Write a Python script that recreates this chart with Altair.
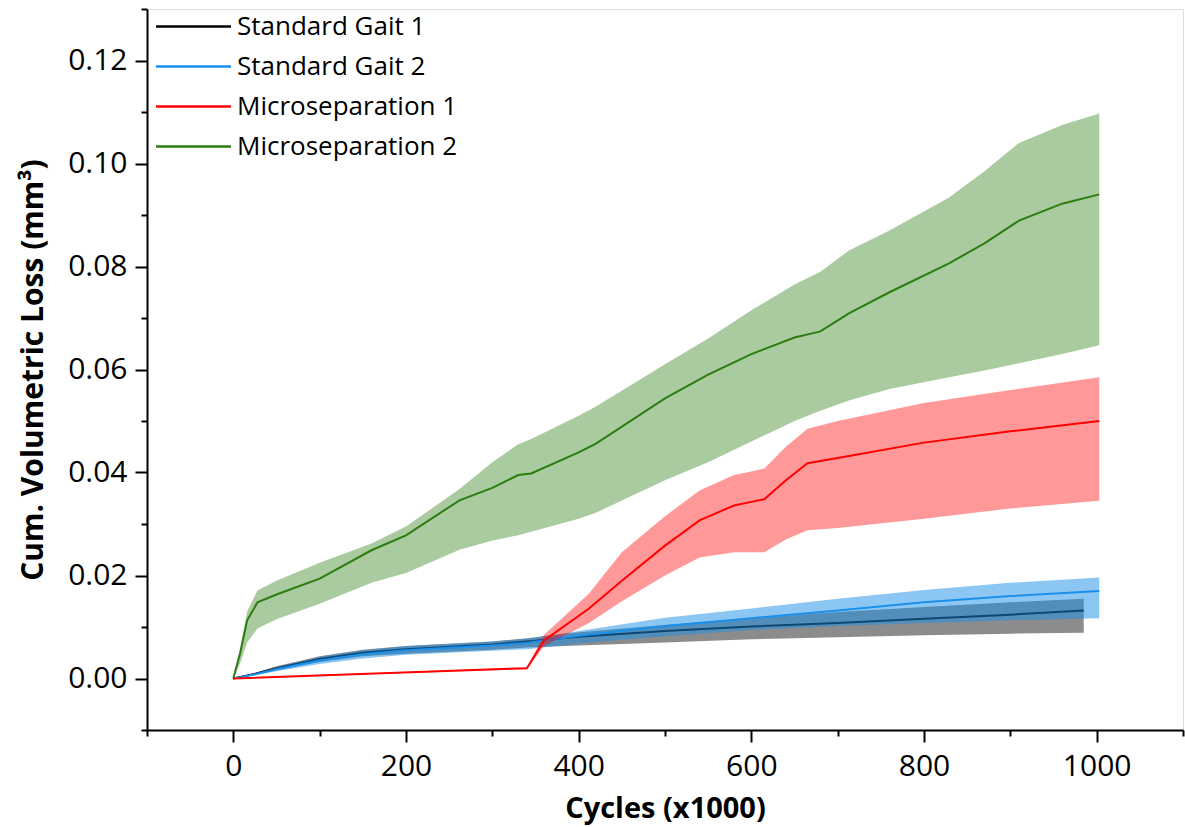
import altair as alt
import pandas as pd

series_names = ["Standard Gait 1", "Standard Gait 2", "Microseparation 1", "Microseparation 2"]
line_colors = ["#000000", "#1a90ea", "#ff0000", "#2b7d10"]
band_opacity = {"Standard Gait 1": 0.45, "Standard Gait 2": 0.5,
                "Microseparation 1": 0.4, "Microseparation 2": 0.4}

# Standard Gait 1
sg1_x = [0, 25, 50, 100, 150, 200, 300, 340, 400, 500, 600, 700, 800, 900, 985]
sg1_y = [0, 0.0009, 0.0020, 0.0038, 0.0050, 0.0057, 0.0066, 0.0072, 0.0081, 0.0092, 0.0101, 0.0108, 0.0116, 0.0124, 0.0132]
sg1_hi = [0, 0.0011, 0.0024, 0.0043, 0.0056, 0.0063, 0.0072, 0.0078, 0.0090, 0.0104, 0.0117, 0.0129, 0.0139, 0.0148, 0.0155]
sg1_lo = [0, 0.0007, 0.0016, 0.0032, 0.0043, 0.0048, 0.0056, 0.0060, 0.0064, 0.0070, 0.0076, 0.0080, 0.0084, 0.0087, 0.0089]

# Standard Gait 2
sg2_x = [0, 25, 50, 100, 150, 200, 300, 340, 400, 500, 600, 700, 800, 900, 1003]
sg2_y = [0, 0.0008, 0.0018, 0.0035, 0.0047, 0.0055, 0.0064, 0.0069, 0.0083, 0.0102, 0.0117, 0.0132, 0.0148, 0.0160, 0.0170]
sg2_hi = [0, 0.0010, 0.0022, 0.0042, 0.0055, 0.0063, 0.0072, 0.0077, 0.0092, 0.0118, 0.0136, 0.0155, 0.0172, 0.0186, 0.0196]
sg2_lo = [0, 0.0006, 0.0014, 0.0028, 0.0039, 0.0046, 0.0054, 0.0057, 0.0068, 0.0082, 0.0094, 0.0102, 0.0108, 0.0113, 0.0117]

# Microseparation 1
ms1_x = [0, 340, 360, 412, 450, 500, 540, 580, 600, 615, 640, 665, 700, 800, 900, 1003]
ms1_y = [0, 0.0020, 0.0074, 0.0136, 0.0190, 0.0258, 0.0307, 0.0336, 0.0343, 0.0348, 0.0385, 0.0418, 0.0428, 0.0458, 0.0480, 0.0500]
ms1_hi = [0, 0.0022, 0.0085, 0.0165, 0.0245, 0.0315, 0.0365, 0.0395, 0.0402, 0.0408, 0.0450, 0.0485, 0.0500, 0.0535, 0.0560, 0.0585]
ms1_lo = [0, 0.0018, 0.0063, 0.0108, 0.0150, 0.0200, 0.0235, 0.0245, 0.0245, 0.0245, 0.0270, 0.0288, 0.0292, 0.0310, 0.0330, 0.0345]

# Microseparation 2
ms2_x = [0, 8, 16, 28, 50, 100, 160, 200, 262, 300, 330, 345, 400, 420, 500, 550, 600, 650, 680, 713, 760, 829, 870, 910, 960, 1003]
ms2_y = [0, 0.0050, 0.0113, 0.0148, 0.0163, 0.0194, 0.0249, 0.0278, 0.0346, 0.0370, 0.0395, 0.0398, 0.0439, 0.0456, 0.0544, 0.0590, 0.0630, 0.0662, 0.0674, 0.0709, 0.0750, 0.0806, 0.0845, 0.0889, 0.0922, 0.0940]
ms2_hi = [0, 0.0060, 0.0130, 0.0171, 0.0190, 0.0225, 0.0262, 0.0295, 0.0368, 0.0420, 0.0455, 0.0465, 0.0510, 0.0528, 0.0610, 0.0660, 0.0715, 0.0765, 0.0790, 0.0831, 0.0870, 0.0934, 0.0985, 0.1040, 0.1075, 0.1097]
ms2_lo = [0, 0.0030, 0.0070, 0.0097, 0.0115, 0.0145, 0.0186, 0.0205, 0.0250, 0.0268, 0.0278, 0.0285, 0.0310, 0.0322, 0.0385, 0.0420, 0.0460, 0.0500, 0.0520, 0.0540, 0.0562, 0.0585, 0.0598, 0.0612, 0.0630, 0.0647]

x_major = [0, 200, 400, 600, 800, 1000]
x_minor = [-100, 100, 300, 500, 700, 900, 1100]
y_major = [0.0, 0.02, 0.04, 0.06, 0.08, 0.10, 0.12]
y_minor = [-0.01, 0.01, 0.03, 0.05, 0.07, 0.09, 0.11, 0.13]

rows = []
for name, xs, ys, his, los in [
    ("Standard Gait 1", sg1_x, sg1_y, sg1_hi, sg1_lo),
    ("Standard Gait 2", sg2_x, sg2_y, sg2_hi, sg2_lo),
    ("Microseparation 1", ms1_x, ms1_y, ms1_hi, ms1_lo),
    ("Microseparation 2", ms2_x, ms2_y, ms2_hi, ms2_lo),
]:
    for a, b, c, d in zip(xs, ys, his, los):
        rows.append({"series": name, "x": a, "y": b, "hi": c, "lo": d})
df = pd.DataFrame(rows)

FONT = "Open Sans"
xscale = alt.Scale(domain=[-100, 1100], nice=False, zero=False)
yscale = alt.Scale(domain=[-0.01, 0.13], nice=False, zero=False)

x_axis = alt.Axis(values=x_major, format="d", title="Cycles (x1000)", grid=False,
                  domainColor="black", domainWidth=2, tickColor="black", tickWidth=2,
                  tickSize=12, labelFontSize=30, labelFont=FONT, labelColor="black",
                  labelPadding=9, titleFont=FONT, titleFontSize=29, titleFontWeight="bold",
                  titleColor="black", titleY=87, titleBaseline="alphabetic", orient="bottom")
y_axis = alt.Axis(values=y_major, format=".2f", title="Cum. Volumetric Loss (mm³)", grid=False,
                  domainColor="black", domainWidth=2, tickColor="black", tickWidth=2,
                  tickSize=12, labelFontSize=30, labelFont=FONT, labelColor="black",
                  labelPadding=8, titleFont=FONT, titleFontSize=30, titleFontWeight="bold",
                  titleColor="black", titleX=-114, titleBaseline="middle", orient="left")

color_scale = alt.Scale(domain=series_names, range=line_colors)
legend = alt.Legend(title=None, orient="none", legendX=30, legendY=1,
                    symbolType="M-2.5,0H2.5", symbolSize=900, symbolStrokeWidth=2.5,
                    labelFontSize=26, labelFont=FONT, labelColor="black", labelOffset=27,
                    labelLimit=500, rowPadding=10, padding=0)

base = alt.Chart(df)

def band(name):
    color = line_colors[series_names.index(name)]
    return base.transform_filter(alt.datum.series == name).mark_area(
        opacity=band_opacity[name], color=color
    ).encode(
        x=alt.X("x:Q", scale=xscale, axis=x_axis),
        y=alt.Y("lo:Q", scale=yscale, axis=y_axis),
        y2="hi:Q",
    )

def line(name):
    return base.transform_filter(alt.datum.series == name).mark_line(strokeWidth=2).encode(
        x=alt.X("x:Q", scale=xscale, axis=x_axis),
        y=alt.Y("y:Q", scale=yscale, axis=y_axis),
        color=alt.Color("series:N", scale=color_scale, legend=legend),
    )

minor = base.mark_point(opacity=0).encode(
    x=alt.X("x:Q", scale=xscale, axis=alt.Axis(values=x_minor, orient="bottom", labels=False,
             domain=False, grid=False, tickSize=6, tickWidth=2, tickColor="black", title="")),
    y=alt.Y("y:Q", scale=yscale, axis=alt.Axis(values=y_minor, orient="left", labels=False,
             domain=False, grid=False, tickSize=6, tickWidth=2, tickColor="black", title="")),
)

main = alt.layer(
    band("Microseparation 2"), line("Microseparation 2"),
    band("Standard Gait 1"), line("Standard Gait 1"),
    band("Standard Gait 2"), line("Standard Gait 2"),
    band("Microseparation 1"), line("Microseparation 1"),
)

chart = alt.layer(main, minor).resolve_axis(x="independent", y="independent").properties(
    width=1036, height=721,
    autosize=alt.AutoSizeParams(type="none"),
    padding={"left": 147, "top": 9, "right": 2, "bottom": 97},
).configure_view(strokeWidth=0).configure(font=FONT, background="white")

chart.save("out.html", embed_options={"renderer": "svg", "actions": False})
